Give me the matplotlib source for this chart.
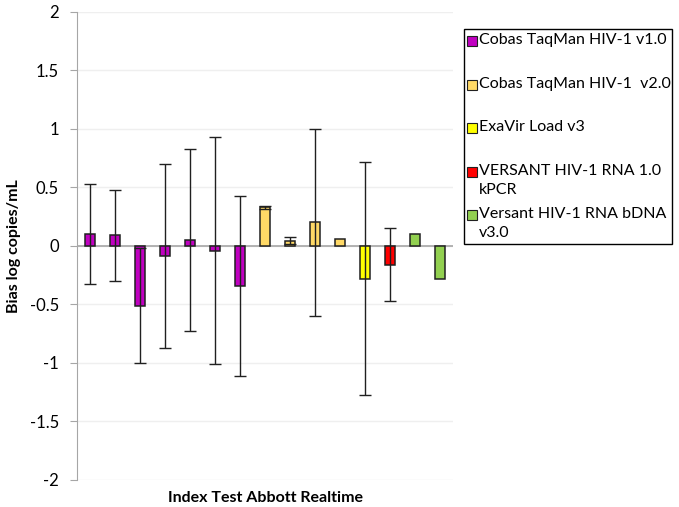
import matplotlib
matplotlib.use('Agg')
import matplotlib.pyplot as plt
from matplotlib.patches import Rectangle

plt.rcParams['font.family'] = ['Lato', 'DejaVu Sans']

# bias per comparison (left to right), with the low/high end of each interval
bias = [0.10, 0.09, -0.51, -0.09, 0.05, -0.045, -0.34,
        0.33, 0.043, 0.205, 0.057, -0.28, -0.16, 0.105, -0.28]
err_low = [-0.33, -0.30, -1.00, -0.87, -0.73, -1.01, -1.11,
           0.317, 0.012, -0.60, None, -1.27, -0.47, None, None]
err_high = [0.53, 0.48, -0.02, 0.70, 0.83, 0.93, 0.43,
            0.343, 0.074, 1.00, None, 0.715, 0.153, None, None]
group = [0, 0, 0, 0, 0, 0, 0, 1, 1, 1, 1, 2, 3, 4, 4]

series = ['Cobas TaqMan HIV-1 v1.0', 'Cobas TaqMan HIV-1  v2.0', 'ExaVir Load v3',
          'VERSANT HIV-1 RNA 1.0\nkPCR', 'Versant HIV-1 RNA bDNA\nv3.0']
colors = ['#C000C0', '#FFD966', '#FFFF00', '#FF0000', '#92D050']

yticks = [2, 1.5, 1, 0.5, 0, -0.5, -1, -1.5, -2]
ytick_labels = ['2', '1.5', '1', '0.5', '0', '-0.5', '-1', '-1.5', '-2']

W, H = 679, 507
fig = plt.figure(figsize=(W / 100, H / 100), dpi=100)
ax = fig.add_axes([77 / W, 1 - 480 / H, (453 - 77) / W, (480 - 11.7) / H])


def px(x, y):
    return x / W, 1 - y / H


xs = list(range(len(bias)))
ax.bar(xs, bias, width=0.4, color=[colors[g] for g in group],
       edgecolor='#202020', linewidth=1.1, zorder=2)

for x, b, lo, hi in zip(xs, bias, err_low, err_high):
    if lo is None:
        continue
    ax.errorbar([x], [b], yerr=[[b - lo], [hi - b]], fmt='none',
                ecolor='#202020', elinewidth=1, capsize=4, capthick=1, zorder=3)

ax.axhline(0, color='#a6a6a6', linewidth=1.2, zorder=1)
ax.set_xlim(-0.5, len(bias) - 0.5)
ax.set_ylim(-2, 2)
ax.set_yticks(yticks)
ax.set_yticklabels(ytick_labels, fontsize=12)
ax.set_xticks([])
ax.grid(axis='y', color='#efefef', linewidth=1, zorder=0)
ax.set_axisbelow(True)
for s in ['top', 'right', 'bottom']:
    ax.spines[s].set_visible(False)
ax.spines['left'].set_color('#a6a6a6')
ax.tick_params(axis='y', length=5, color='#a6a6a6', pad=8)

ax.set_ylabel('Bias log copies/mL', fontsize=11.5, fontweight='bold', labelpad=6)
ax.set_xlabel('Index Test Abbott Realtime', fontsize=11.5, fontweight='bold', labelpad=8)

# legend box, drawn by hand to follow the original spacing
x0, y0 = px(464, 244)
x1, y1 = px(672, 29)
fig.add_artist(Rectangle((x0, y0), x1 - x0, y1 - y0, transform=fig.transFigure,
                         facecolor='white', edgecolor='black', linewidth=1))
rows = [41, 85, 128, 172, 215]
for name, c, yc in zip(series, colors, rows):
    sx, sy = px(467, yc + 5)
    fig.add_artist(Rectangle((sx, sy), 10 / W, 10 / H, transform=fig.transFigure,
                             facecolor=c, edgecolor='#202020', linewidth=0.8))
    tx, ty = px(479, yc - 8)
    fig.text(tx, ty, name, fontsize=11.5, va='top', ha='left', linespacing=1.45)

fig.savefig('out.png', dpi=100)
